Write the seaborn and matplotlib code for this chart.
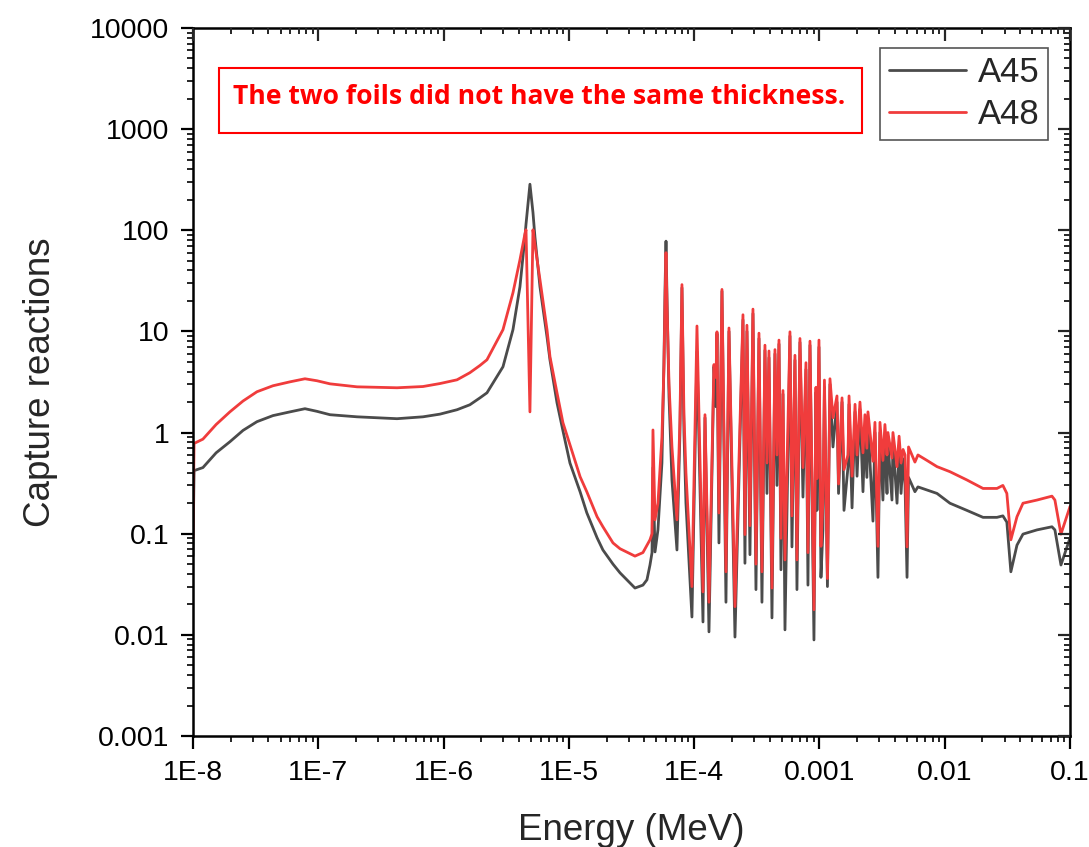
import numpy as np
import pandas as pd
import matplotlib
matplotlib.use("Agg")
import matplotlib.pyplot as plt
import seaborn as sns
from matplotlib.ticker import FixedLocator, FixedFormatter, LogLocator, NullFormatter
from matplotlib.lines import Line2D
from matplotlib.patches import Rectangle

# ---------------- data ----------------
energy = [1.00e-8, 1.02e-8, 1.20e-8, 1.53e-8, 1.97e-8, 2.51e-8, 3.24e-8, 4.35e-8, 5.94e-8, 7.83e-8,
          9.76e-8, 1.24e-7, 2.04e-7, 4.25e-7, 6.85e-7, 9.36e-7, 1.28e-6, 1.62e-6, 1.95e-6, 2.22e-6,
          2.98e-6, 3.58e-6, 4.07e-6, 4.46e-6, 4.55e-6, 4.89e-6, 5.17e-6, 5.36e-6, 5.88e-6, 6.69e-6,
          7.07e-6, 8.04e-6, 8.97e-6, 1.02e-5, 1.23e-5, 1.39e-5, 1.68e-5, 1.87e-5, 2.25e-5, 2.56e-5,
          3.37e-5, 3.90e-5, 4.20e-5, 4.44e-5, 4.61e-5, 4.69e-5, 4.87e-5, 5.14e-5, 5.53e-5, 5.74e-5,
          5.85e-5, 5.96e-5, 6.07e-5, 6.30e-5, 6.65e-5, 7.29e-5, 7.70e-5, 7.99e-5, 8.29e-5, 8.6e-5,
          9.60e-5, 1.053e-4, 1.176e-4, 1.220e-4, 1.313e-4, 1.439e-4, 1.493e-4, 1.521e-4, 1.577e-4, 1.667e-4,
          1.794e-4, 1.896e-4, 2.117e-4, 2.452e-4, 2.543e-4, 2.638e-4, 2.788e-4, 2.946e-4, 3.113e-4, 3.290e-4,
          3.476e-4, 3.673e-4, 3.811e-4, 3.954e-4, 4.178e-4, 4.414e-4, 4.580e-4, 4.752e-4, 4.928e-4, 5.114e-4,
          5.306e-4, 5.815e-4, 6.033e-4, 6.375e-4, 6.613e-4, 6.988e-4, 7.385e-4, 7.803e-4, 8.095e-4, 8.399e-4,
          9.039e-4, 9.378e-4, 9.55e-4, 9.91e-4, 1.028e-3, 1.066e-3, 1.096e-3, 1.158e-3, 1.213e-3, 1.282e-3,
          1.380e-3, 1.42e-3, 1.514e-3, 1.57e-3, 1.69e-3, 1.722e-3, 1.820e-3, 1.923e-3, 1.995e-3, 2.105e-3,
          2.225e-3, 2.307e-3, 2.39e-3, 2.438e-3, 2.673e-3, 2.773e-3, 2.930e-3, 3.04e-3, 3.21e-3, 3.33e-3,
          3.46e-3, 3.52e-3, 3.79e-3, 3.86e-3, 4.16e-3, 4.32e-3, 4.48e-3, 4.65e-3, 4.82e-3, 5.00e-3,
          5.14e-3, 5.78e-3, 6.11e-3, 7.21e-3, 8.67e-3, 1.10e-2, 1.50e-2, 2.02e-2, 2.61e-2, 2.91e-2,
          3.13e-2, 3.37e-2, 3.77e-2, 4.21e-2, 5.45e-2, 7.17e-2, 7.57e-2, 8.46e-2, 1.0e-1]

a45 = [0.06, 0.42, 0.45, 0.63, 0.81, 1.05, 1.28, 1.47, 1.60, 1.72,
       1.62, 1.50, 1.43, 1.37, 1.43, 1.52, 1.68, 1.88, 2.20, 2.47,
       4.47, 10.4, 27.6, 86, 115, 285, 150, 86, 27.6, 8.85,
       5.2, 1.97, 1.04, 0.50, 0.259, 0.161, 0.091, 0.069, 0.050, 0.041,
       0.029, 0.031, 0.035, 0.049, 0.065, 0.45, 0.066, 0.109, 0.5, 4.9,
       25, 78, 22, 2.25, 0.34, 0.069, 1.0, 27, 1.0, 0.2,
       0.015, 6.3, 0.0134, 1.4, 0.0107, 4.5, 1.8, 9.5, 0.081, 25,
       0.021, 10, 0.0095, 13, 0.051, 10, 0.062, 15, 0.028, 8.5,
       0.021, 6.5, 0.25, 5.5, 0.0147, 6.0, 0.3, 7.5, 0.044, 2.4,
       0.0112, 9.0, 0.074, 5.2, 0.028, 7.8, 0.23, 4.2, 0.031, 7.3,
       0.0089, 2.5, 0.17, 7.0, 0.037, 0.109, 2.8, 0.030, 3.0, 0.72,
       2.0, 0.25, 2.0, 0.17, 0.46, 1.9, 0.18, 1.6, 0.37, 1.7,
       0.26, 1.0, 0.36, 1.3, 0.133, 1.0, 0.037, 1.0, 0.215, 0.95,
       0.25, 0.8, 0.215, 0.8, 0.2, 0.75, 0.25, 0.55, 0.3, 0.037,
       0.36, 0.26, 0.29, 0.27, 0.25, 0.20, 0.17, 0.145, 0.145, 0.15,
       0.13, 0.042, 0.077, 0.099, 0.109, 0.117, 0.109, 0.049, 0.091]

a48 = [0.09, 0.78, 0.86, 1.2, 1.60, 2.05, 2.53, 2.90, 3.17, 3.40,
       3.25, 3.03, 2.83, 2.77, 2.85, 3.05, 3.32, 3.9, 4.6, 5.24,
       10.4, 24.1, 51, 92, 101, 1.6, 101, 72, 32.4, 10.4,
       5.6, 2.47, 1.25, 0.755, 0.365, 0.26, 0.147, 0.117, 0.081, 0.071,
       0.060, 0.065, 0.077, 0.087, 0.10, 1.06, 0.137, 0.20, 0.9, 4.5,
       18, 60, 18, 3.0, 0.72, 0.137, 1.3, 29, 1.5, 0.4,
       0.030, 11.3, 0.0266, 1.5, 0.021, 4.7, 3.5, 9.9, 0.16, 26,
       0.042, 10.8, 0.019, 14.6, 0.098, 11.5, 0.12, 16.6, 0.05, 9.6,
       0.042, 7.3, 0.5, 6.4, 0.029, 6.6, 0.6, 8.2, 0.09, 2.6,
       0.055, 9.9, 0.15, 5.8, 0.055, 8.5, 0.45, 4.9, 0.065, 8.0,
       0.0177, 2.8, 0.35, 8.2, 0.075, 0.215, 3.3, 0.036, 3.4, 1.4,
       2.3, 0.31, 2.2, 0.43, 0.6, 2.3, 0.37, 1.9, 0.6, 2.0,
       0.63, 1.5, 0.7, 1.6, 0.52, 1.26, 0.075, 1.26, 0.53, 1.2,
       0.6, 1.0, 0.56, 1.0, 0.46, 0.92, 0.5, 0.68, 0.6, 0.074,
       0.72, 0.51, 0.60, 0.53, 0.46, 0.41, 0.34, 0.28, 0.28, 0.30,
       0.25, 0.087, 0.147, 0.20, 0.215, 0.235, 0.215, 0.099, 0.186]

series_names = ["A45", "A48"]
series_colors = ["#4b4b4b", "#f03c3c"]

x_ticks = [1e-8, 1e-7, 1e-6, 1e-5, 1e-4, 1e-3, 1e-2, 1e-1]
x_tick_labels = ["1E-8", "1E-7", "1E-6", "1E-5", "1E-4", "0.001", "0.01", "0.1"]
y_ticks = [1e-3, 1e-2, 1e-1, 1, 10, 100, 1000, 10000]
y_tick_labels = ["0.001", "0.01", "0.1", "1", "10", "100", "1000", "10000"]

x_label = "Energy (MeV)"
y_label = "Capture reactions"
note_text = "The two foils did not have the same thickness."

# ---------------- styling ----------------
sns.set_style("ticks")
plt.rcParams['font.family'] = ['Liberation Sans', 'DejaVu Sans']

df = pd.DataFrame({
    "Energy": energy + energy,
    "Capture": a45 + a48,
    "Sample": [series_names[0]] * len(energy) + [series_names[1]] * len(energy),
})

fig = plt.figure(figsize=(10.89, 8.47), dpi=100)
pos = [0.1772, 0.1311, 0.8054, 0.8359]
ax = fig.add_axes(pos)

sns.lineplot(data=df, x="Energy", y="Capture", hue="Sample",
             hue_order=series_names, palette=dict(zip(series_names, series_colors)),
             estimator=None, sort=False, linewidth=2.0, legend=False, ax=ax)

ax.set_xscale("log")
ax.set_yscale("log")
ax.set_xlim(x_ticks[0], x_ticks[-1])
ax.set_ylim(y_ticks[0], y_ticks[-1])

for axis, ticks, labels in ((ax.xaxis, x_ticks, x_tick_labels), (ax.yaxis, y_ticks, y_tick_labels)):
    axis.set_major_locator(FixedLocator(ticks))
    axis.set_major_formatter(FixedFormatter(labels))
    axis.set_minor_locator(LogLocator(base=10, subs=np.arange(2, 10), numticks=20))
    axis.set_minor_formatter(NullFormatter())

ax.tick_params(which="major", direction="out", length=9, width=1.6, labelsize=20.5, colors="black")
ax.tick_params(axis="x", which="major", pad=8)
ax.tick_params(axis="y", which="major", pad=8)
ax.tick_params(which="minor", direction="out", length=4.3, width=1.4)
for s in ax.spines.values():
    s.set_linewidth(1.8)
    s.set_color("black")
    s.set_visible(True)

ax.set_xlabel(x_label, fontsize=26.5, labelpad=20)
ax.set_ylabel(y_label, fontsize=26.5, labelpad=23)

# overlay axes for inward ticks on top and right
ax2 = fig.add_axes(pos, sharex=ax, sharey=ax, frameon=False)
ax2.xaxis.tick_top()
ax2.yaxis.tick_right()
ax2.tick_params(which="major", direction="in", length=9, width=1.6,
                labeltop=False, labelright=False, labelbottom=False, labelleft=False)
ax2.tick_params(which="minor", direction="in", length=4.3, width=1.4)
ax2.patch.set_visible(False)
ax2.set_xlabel("")
ax2.set_ylabel("")

# annotation box
ax.add_patch(Rectangle((0.0296, 0.8517), 0.7332, 0.0918, transform=ax.transAxes,
                       fill=False, edgecolor="#ff0000", linewidth=1.5, zorder=5))
ax.text(0.0456, 0.892, note_text, transform=ax.transAxes, ha="left", va="baseline",
        color="#ff0000", fontsize=19.1, fontweight="bold", family=["Open Sans", "DejaVu Sans"], zorder=6)

handles = [Line2D([0], [0], color=c, lw=2.0) for c in series_colors]
leg = ax.legend(handles, series_names, loc="upper right", bbox_to_anchor=(0.975, 0.972),
                borderaxespad=0, fontsize=25, frameon=True, fancybox=False,
                handlelength=2.2, labelspacing=0.25, handletextpad=0.35,
                borderpad=0.25, edgecolor="#555555", framealpha=1)
leg.get_frame().set_linewidth(1.2)

fig.savefig("out.png", dpi=100)
